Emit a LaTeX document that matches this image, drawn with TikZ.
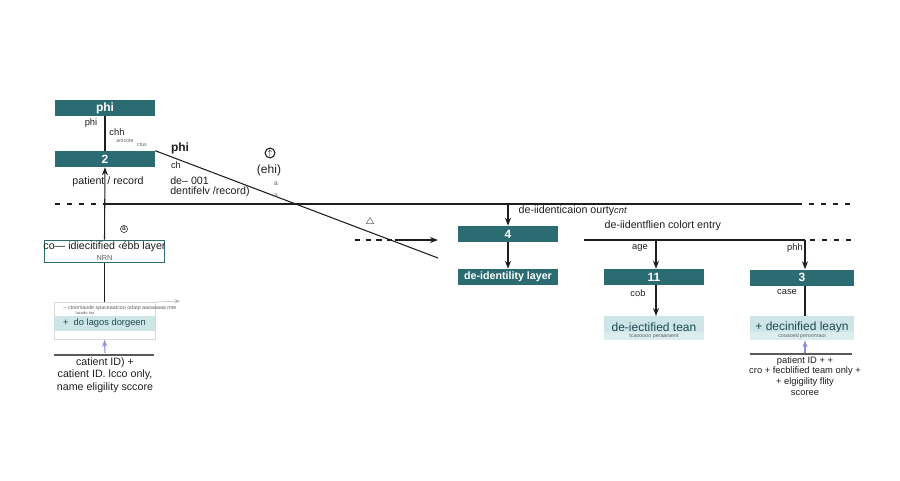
\documentclass[tikz,border=0pt]{standalone}
\usepackage{fontspec}
\setmainfont{Liberation Sans}
\usetikzlibrary{arrows.meta}
\definecolor{teal1}{HTML}{2B6C72}
\definecolor{lteal}{HTML}{CDE5E7}
\definecolor{ink}{HTML}{1E1E1E}
\begin{document}
\begin{tikzpicture}[x=0.75pt,y=-0.75pt,
  dark/.style={draw=none,fill=teal1,text=white,font=\bfseries\small,minimum width=75pt,minimum height=12pt,inner sep=0pt},
  light/.style={fill=lteal,text=teal1!70!black,font=\small,minimum width=75pt,minimum height=16.5pt,inner sep=0pt,anchor=north},
  lbl/.style={font=\scriptsize,text=ink,inner sep=1pt},
  tiny/.style={font=\fontsize{4}{5}\selectfont,text=ink!70,inner sep=0pt},
  arr/.style={-{Stealth[length=6pt]},thick,ink},
  ln/.style={thick,ink}]
\useasboundingbox (0,0) rectangle (900,480);
% left column
\node[dark] (phi) at (105,108) {phi};
\node[dark] (b2) at (105,159) {2};
\draw[ln] (phi) -- (b2);
\node[lbl] (l1) at (91,123) {phi};
\node[lbl] (l2) at (117,132) {chh};
\node[tiny] (l3) at (125,141) {anicote};
\node[tiny] (l4) at (142,145) {ctus};
\node[lbl,font=\footnotesize] (pr) at (108,182) {patient / record};
\node[draw=teal1,thick,fill=white,minimum width=90pt,minimum height=17pt,inner sep=0pt] (cl) at (104.5,251.5) {};
\node[font=\footnotesize,text=ink,inner sep=0pt] (clt) at (104.5,247) {co— idiecitified ‹ébb layer};
\node[tiny,font=\fontsize{5.5}{6}\selectfont] (nrn) at (104.5,257.5) {NRN};
\draw[arr] (cl.north) -- (b2.south);
\node[circle,draw=ink,thin,inner sep=0.5pt,font=\fontsize{5}{5}\selectfont] (ic1) at (124,229) {a};
% gray box
\node[draw=gray!30,fill=white,minimum width=76pt,minimum height=28pt,inner sep=0pt] (gb) at (104.5,321) {};
\node[fill=lteal,minimum width=76pt,minimum height=11pt,inner sep=0pt,font=\scriptsize,text=teal1!70!black] (gband) at (104.5,323.5) {+\ \ do lagos dorgeen};
\node[tiny] (gt) at (120,308.5) {– ctooniaode spaceaatcoo odatp aaoaaaaa mte};
\node[tiny,font=\fontsize{3}{4}\selectfont] (gt2) at (85,313) {tacado taa};
\coordinate (ga) at (180,301);
\draw[gray!60,-{Stealth[length=4pt]}] (gb.north east) -- (ga);
\draw[ln] (gb.north) -- (cl.south);
\coordinate (lb) at (105,353);
\draw[-{Stealth[length=5pt]},thick,gray!50!blue!60] (lb) -- (gb.south);
\coordinate (u1) at (54,355); \coordinate (u2) at (154,355);
\draw[thick,gray!70!black] (u1) -- (u2);
\node[font=\footnotesize,text=ink,align=center,inner sep=0pt,anchor=north] (lt) at (105,357) {catient ID) +\\catient ID. lcco only,\\name eligility sccore};
% horizontal line
\coordinate (h0) at (55,204); \coordinate (h1) at (105,204); \coordinate (h2) at (797,204); \coordinate (h3) at (855,204);
\draw[ultra thick,dash pattern=on 4pt off 5pt,ink] (h0) -- (h1);
\draw[ln] (h1) -- (h2);
\draw[ultra thick,dash pattern=on 4pt off 5pt,ink] (h2) -- (h3);
% diagonal
\coordinate (d1) at (438,258);
\draw[ln] (b2.north east) -- (d1);
\node[font=\small\bfseries,text=ink] (p2) at (180,148) {phi};
\node[lbl] (ch) at (176,165) {ch};
\node[font=\footnotesize,text=ink,anchor=west,inner sep=0pt] (de) at (170,181) {de– 001};
\node[font=\footnotesize,text=ink,anchor=west,inner sep=0pt] (df) at (170,192) {dentifelv /record)};
\node[circle,draw=ink,thick,inner sep=0.3pt,font=\fontsize{6}{6}\selectfont\bfseries] (ic2) at (270,153) {$\uparrow$};
\node[font=\small,text=ink,inner sep=0pt] (ehi) at (269,170) {(ehi)};
\node[tiny,font=\fontsize{5}{6}\selectfont] (a1) at (276,184) {a};
\node[tiny,font=\fontsize{5}{6}\selectfont] (a2) at (276,196) {a};
\node[lbl] (ic3) at (370,222) {$\triangle$};
\coordinate (s0) at (355,240); \coordinate (s1) at (395,240); \coordinate (s2) at (438,240);
\draw[thick,dash pattern=on 4pt off 4pt,ink] (s0) -- (s1);
\draw[arr] (s1) -- (s2);
% right middle
\node[dark] (b4) at (508,234) {4};
\node[dark,font=\bfseries\footnotesize] (dl) at (508,277) {de-identility layer};
\coordinate (t4) at (508,204);
\draw[arr] (t4) -- (b4.north);
\draw[arr] (b4) -- (dl);
\node[font=\footnotesize,text=ink,anchor=west] (dq) at (514,211) {de-iidenticaion ourty\textit{\scriptsize cnt}};
\node[font=\footnotesize,text=ink,anchor=west] (dc) at (600,226) {de-iidentflien colort entry};
\coordinate (r0) at (584,240); \coordinate (r1) at (805,240); \coordinate (r2) at (810,240); \coordinate (r3) at (855,240);
\draw[ln] (r0) -- (r1);
\draw[ultra thick,dash pattern=on 4pt off 5pt,ink] (r2) -- (r3);
\node[dark] (b11) at (654,277) {11};
\node[dark,minimum width=78pt] (b3) at (802,277.5) {3};
\coordinate (a11) at (656,240); \coordinate (a3) at (805,240);
\draw[arr] (a11) -- (b11.north -| a11);
\draw[arr] (a3) -- (b3.north -| a3);
\node[lbl] (age) at (640,248) {age};
\node[lbl] (phh) at (795,248) {phh};
\node[light] (lt1) at (654,316) {de-iectified tean};
\node[fill=lteal!70,minimum width=75pt,minimum height=6pt,inner sep=0pt,tiny,anchor=north] (lt1b) at (654,332) {tcaooooo peraaraent};
\draw[arr] (b11.south -| a11) -- (lt1.north -| a11);
\node[lbl] (cob) at (638,293) {cob};
\node[light,minimum width=78pt] (lt3) at (802,316) {+ decinified leayn};
\node[fill=lteal!70,minimum width=78pt,minimum height=6pt,inner sep=0pt,tiny,anchor=north] (lt3b) at (802,332) {cooaoed peronnraoi};
\draw[ln] (b3.south -| a3) -- (lt3.north -| a3);
\node[lbl] (case) at (787,292) {case};
\coordinate (rb) at (805,353);
\draw[-{Stealth[length=5pt]},thick,gray!50!blue!60] (rb) -- (lt3b.south -| rb);
\coordinate (v1) at (750,354); \coordinate (v2) at (852,354);
\draw[thick,gray!70!black] (v1) -- (v2);
\node[font=\scriptsize,text=ink,align=center,inner sep=0pt,anchor=north] (rt) at (805,356) {patient ID + +\\cro + fecblified team only +\\+ elgigility flity\\scoree};
\end{tikzpicture}
\end{document}
